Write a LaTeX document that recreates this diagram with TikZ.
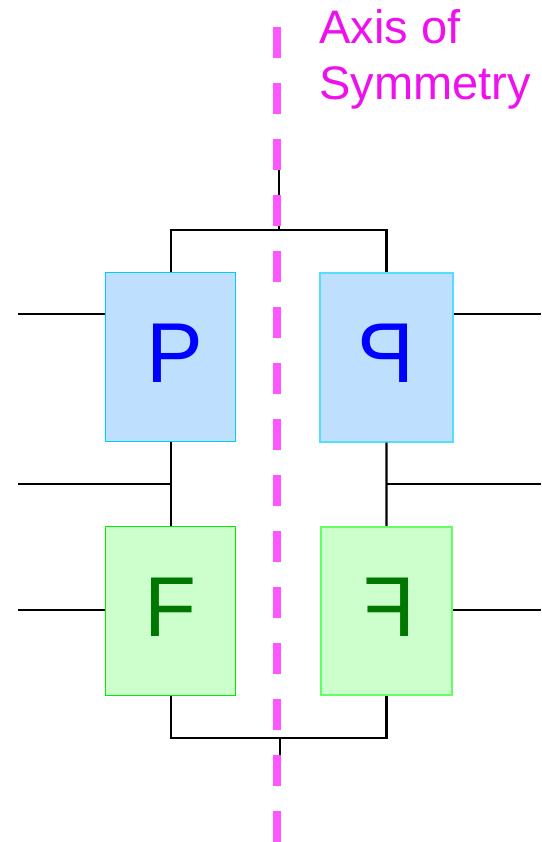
\documentclass[tikz,border=0pt]{standalone}
\usepackage{fontspec}
\setmainfont{Liberation Sans}
\usepackage{graphicx}
\usetikzlibrary{positioning}
\definecolor{AxisPink}{RGB}{255,85,255}
\definecolor{AxisText}{RGB}{238,17,238}
\definecolor{PFill}{RGB}{191,223,255}
\definecolor{PEdge}{RGB}{0,204,255}
\definecolor{PEdgeLight}{RGB}{85,221,255}
\definecolor{PText}{RGB}{0,0,255}
\definecolor{FFill}{RGB}{204,255,204}
\definecolor{FEdge}{RGB}{0,238,0}
\definecolor{FEdgeLight}{RGB}{100,255,100}
\definecolor{FText}{RGB}{0,119,0}
\begin{document}
\begin{tikzpicture}[x=1pt,y=-1pt,
  letterbox/.style={rectangle,minimum width=130pt,minimum height=169pt,inner sep=0pt,text depth=8pt,font=\fontsize{85}{85}\selectfont},
  pbox/.style={letterbox,draw=PEdge,fill=PFill,text=PText,line width=1pt},
  fbox/.style={letterbox,draw=FEdge,fill=FFill,text=FText,line width=1pt},
  wire/.style={line width=2.2pt,black},
  axislabel/.style={anchor=base west,inner sep=0pt,text=AxisText,font=\fontsize{47}{56}\selectfont}]
\useasboundingbox (0,0) rectangle (541,842);
\node[pbox] (pL) at (170.7,357) {\kern9pt P};
\node[pbox,draw=PEdgeLight,line width=2pt,minimum width=133pt,right=82.8pt of pL] (pR) {\reflectbox{P}};
\node[fbox,below=84pt of pL] (fL) {F};
\node[fbox,draw=FEdgeLight,line width=2.5pt,minimum width=131pt,minimum height=168pt,right=83.5pt of fL] (fR) {\kern6pt\reflectbox{F}};
\coordinate (topjoin) at (279,230); \coordinate (topin) at (279,169);
\coordinate (botjoin) at (280,738); \coordinate (botout) at (280,764);
\coordinate (inP) at (18,314); \coordinate (outP) at (541,314);
\coordinate (midL) at (18,484); \coordinate (midR) at (541,484);
\coordinate (inF) at (18,610); \coordinate (outF) at (541,610);
\draw[wire] (pL.north) |- (topjoin) -| (pR.north); \draw[wire] (topin) -- (topjoin);
\draw[wire] (fL.south) |- (botjoin) -| (fR.south); \draw[wire] (botjoin) -- (botout);
\draw[wire] (pL.south) -- (fL.north); \draw[wire] (pR.south) -- (fR.north);
\draw[wire] (inP) -- (inP -| pL.west); \draw[wire] (pR.east |- outP) -- (outP);
\draw[wire] (midL) -- (midL -| pL.south); \draw[wire] (midR -| pR.south) -- (midR);
\draw[wire] (inF) -- (inF -| fL.west); \draw[wire] (fR.east |- outF) -- (outF);
\draw[AxisPink,line width=7.5pt,dash pattern=on 31pt off 25pt] (277,27) -- (277,842);
\node[axislabel] (axisA) at (319,44) {Axis of};
\node[axislabel] (axisB) at (319,100) {Symmetry};
\end{tikzpicture}
\end{document}
